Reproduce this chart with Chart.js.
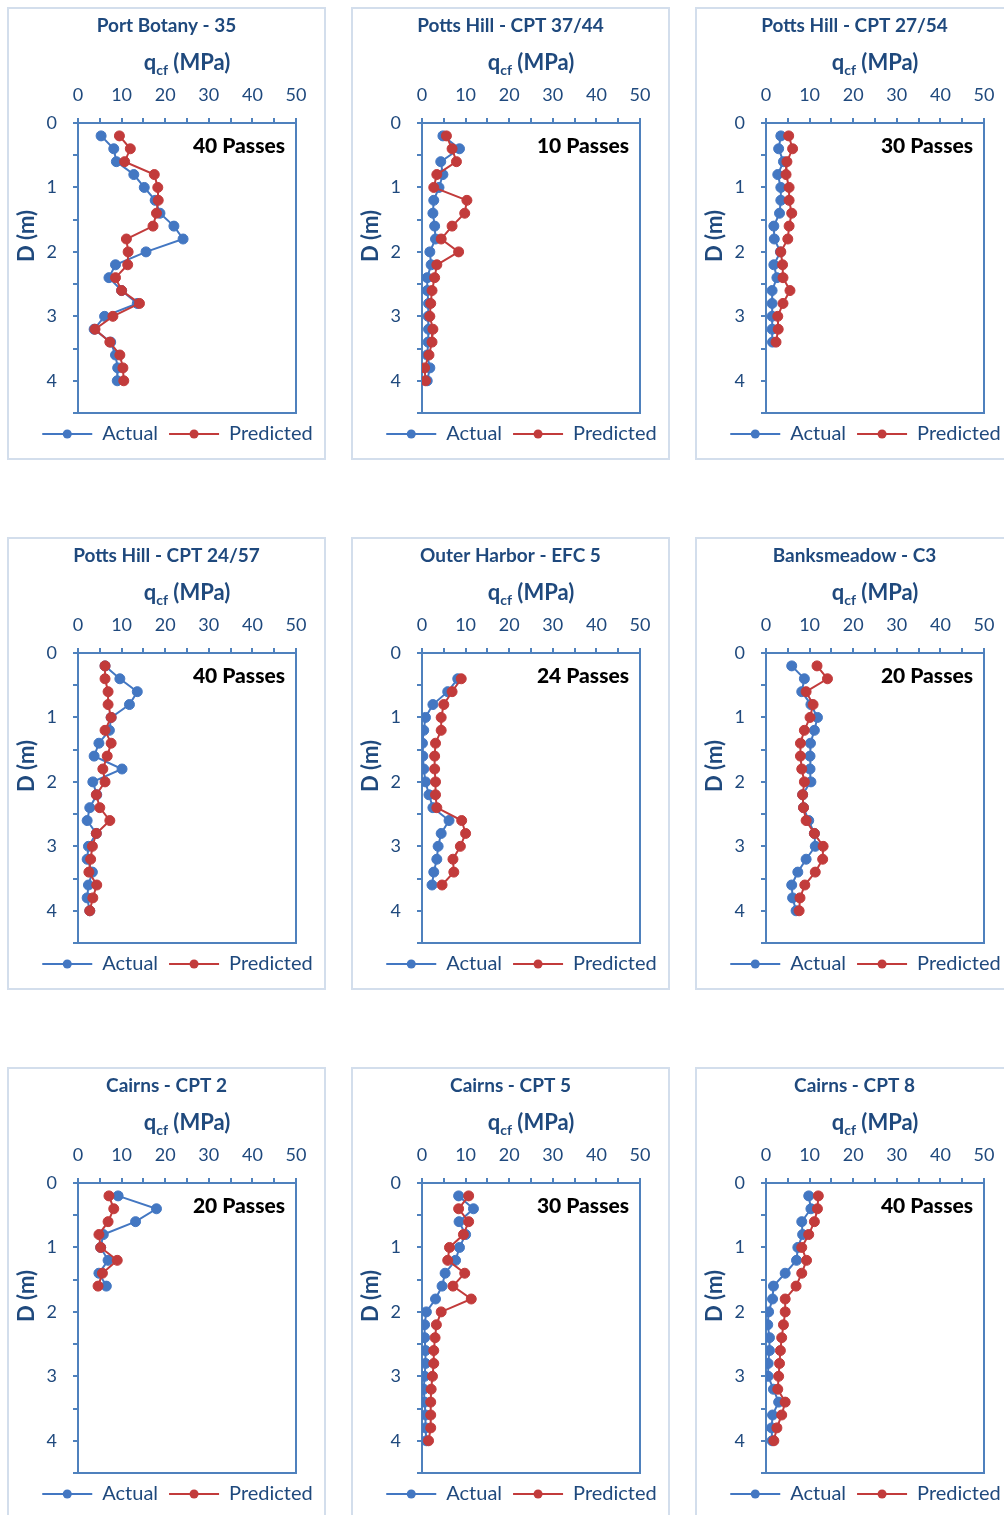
<!DOCTYPE html>
<html>
<head>
<meta charset="utf-8">
<script src="https://cdn.jsdelivr.net/npm/chart.js@4.4.1/dist/chart.umd.min.js"></script>
<style>
  html, body { margin: 0; padding: 0; background: #fff; }
  body { width: 1004px; height: 1515px; overflow: hidden; position: relative; }
  canvas { position: absolute; outline: 2px solid #D3DEEC; outline-offset: -2px; }
</style>
</head>
<body>
<script>
// depths (m)
const depth20 = [0.2, 0.4, 0.6, 0.8, 1.0, 1.2, 1.4, 1.6, 1.8, 2.0, 2.2, 2.4, 2.6, 2.8, 3.0, 3.2, 3.4, 3.6, 3.8, 4.0];
const depthTo34 = [0.2, 0.4, 0.6, 0.8, 1.0, 1.2, 1.4, 1.6, 1.8, 2.0, 2.2, 2.4, 2.6, 2.8, 3.0, 3.2, 3.4];
const depthFrom04 = [0.4, 0.6, 0.8, 1.0, 1.2, 1.4, 1.6, 1.8, 2.0, 2.2, 2.4, 2.6, 2.8, 3.0, 3.2, 3.4, 3.6];
const depthTo16 = [0.2, 0.4, 0.6, 0.8, 1.0, 1.2, 1.4, 1.6];

// qcf (MPa), actual / predicted
const portBotany35Actual = [5.3, 8.2, 8.8, 12.8, 15.2, 17.7, 18.8, 22.0, 24.1, 15.6, 8.6, 7.1, 10.0, 13.6, 6.1, 3.7, 7.5, 8.6, 9.1, 9.0];
const portBotany35Predicted = [9.5, 12.0, 10.7, 17.5, 18.3, 18.4, 18.0, 17.2, 11.1, 11.5, 11.4, 8.6, 10.0, 14.1, 8.0, 3.9, 7.3, 9.6, 10.3, 10.5];

const potts3744Actual = [4.8, 8.6, 4.3, 4.8, 3.9, 2.7, 2.5, 2.9, 3.1, 1.8, 2.1, 1.2, 1.2, 1.5, 1.4, 1.5, 1.4, 1.2, 1.8, 1.2];
const potts3744Predicted = [5.6, 6.9, 7.9, 3.4, 2.7, 10.3, 9.8, 6.9, 4.4, 8.4, 3.4, 2.9, 2.3, 2.0, 1.8, 2.5, 2.3, 1.6, 0.6, 0.8];

const potts2754Actual = [3.4, 2.9, 4.0, 2.7, 3.4, 3.4, 3.1, 1.8, 1.9, 3.3, 1.8, 2.5, 1.4, 1.4, 1.4, 1.4, 1.5];
const potts2754Predicted = [5.2, 6.1, 4.8, 4.6, 5.3, 5.3, 5.9, 5.3, 5.0, 3.4, 3.8, 3.9, 5.5, 3.9, 2.7, 2.8, 2.3];

const potts2457Actual = [6.2, 9.6, 13.6, 11.8, 7.6, 7.2, 4.8, 3.7, 10.1, 3.4, 4.3, 2.7, 2.1, 4.2, 2.4, 2.1, 3.3, 2.4, 2.1, 2.7];
const potts2457Predicted = [6.2, 6.2, 6.9, 6.9, 7.6, 6.2, 7.6, 6.7, 5.7, 6.2, 4.2, 5.0, 7.3, 4.2, 3.3, 2.9, 2.5, 4.3, 3.4, 2.7];

const outerHarborActual = [8.2, 5.9, 2.5, 0.8, 0.4, 0.1, 0.2, 0.4, 0.8, 1.6, 2.5, 6.2, 4.4, 3.7, 3.4, 2.7, 2.3];
const outerHarborPredicted = [9.0, 6.9, 5.0, 4.4, 4.4, 3.1, 2.9, 2.9, 3.1, 3.1, 3.4, 9.1, 10.0, 8.8, 7.1, 7.3, 4.6];

const banksmeadowActual = [5.9, 8.8, 8.2, 10.3, 11.8, 11.1, 10.2, 10.1, 10.1, 10.3, 8.4, 8.6, 9.8, 11.1, 11.3, 9.2, 7.3, 5.9, 6.1, 6.9];
const banksmeadowPredicted = [11.7, 14.1, 9.2, 10.8, 10.1, 8.8, 7.9, 7.9, 8.2, 8.8, 8.4, 8.6, 9.2, 11.1, 13.1, 13.0, 11.3, 8.9, 7.8, 7.6];

const cairns2Actual = [9.2, 18.0, 13.2, 5.8, 5.2, 6.9, 4.8, 6.5];
const cairns2Predicted = [7.1, 8.2, 6.9, 4.8, 5.2, 9.0, 5.6, 4.6];

const cairns5Actual = [8.4, 11.8, 8.5, 10.0, 8.6, 7.7, 5.3, 4.6, 3.1, 1.0, 0.6, 0.6, 0.8, 0.8, 0.6, 0.4, 0.6, 0.8, 0.8, 1.0];
const cairns5Predicted = [10.7, 8.4, 10.7, 9.5, 6.3, 5.9, 9.8, 7.1, 11.3, 4.4, 3.3, 3.0, 2.7, 2.7, 2.4, 2.1, 2.0, 2.0, 2.0, 1.5];

const cairns8Actual = [9.8, 10.3, 8.2, 8.4, 7.3, 7.0, 4.4, 1.7, 1.5, 0.6, 0.4, 0.8, 0.8, 0.5, 0.5, 1.7, 2.9, 1.5, 1.3, 1.4];
const cairns8Predicted = [12.0, 11.8, 11.1, 9.8, 8.2, 9.3, 8.2, 6.9, 4.4, 4.4, 4.0, 3.6, 3.3, 3.1, 2.9, 2.7, 4.4, 3.6, 2.5, 1.8];

const titles = ['Port Botany - 35', 'Potts Hill - CPT 37/44', 'Potts Hill - CPT 27/54',
  'Potts Hill - CPT 24/57', 'Outer Harbor - EFC 5', 'Banksmeadow - C3',
  'Cairns - CPT 2', 'Cairns - CPT 5', 'Cairns - CPT 8'];
const passLabels = ['40 Passes', '10 Passes', '30 Passes', '40 Passes', '24 Passes', '20 Passes', '20 Passes', '30 Passes', '40 Passes'];
const depths = [depth20, depth20, depthTo34, depth20, depthFrom04, depth20, depthTo16, depth20, depth20];
const actuals = [portBotany35Actual, potts3744Actual, potts2754Actual, potts2457Actual, outerHarborActual, banksmeadowActual, cairns2Actual, cairns5Actual, cairns8Actual];
const predicteds = [portBotany35Predicted, potts3744Predicted, potts2754Predicted, potts2457Predicted, outerHarborPredicted, banksmeadowPredicted, cairns2Predicted, cairns5Predicted, cairns8Predicted];

const NAVY = '#1F497D';
const AXIS = '#4F81BD';
const BLUE = '#4377C2';
const RED = '#C23B3B';
const FONT = 'Lato, "Open Sans", sans-serif';

const decor = {
  id: 'decor',
  afterLayout(chart) {
    // Excel's legend sits a little right of centre
    chart.legend.left += 11;
    chart.legend.right += 11;
  },
  beforeDatasetsDraw(chart) {
    const { ctx, chartArea: a } = chart;
    ctx.save();
    ctx.strokeStyle = AXIS;
    ctx.lineWidth = 2;
    ctx.strokeRect(a.left, a.top, a.width, a.height);
    ctx.restore();
  },
  afterDraw(chart, args, opts) {
    const { ctx, chartArea: a } = chart;
    ctx.save();
    // x axis title q_cf (MPa)
    ctx.fillStyle = NAVY;
    ctx.textBaseline = 'alphabetic';
    ctx.textAlign = 'left';
    const big = 'bold 22px ' + FONT, small = 'bold 14px ' + FONT;
    ctx.font = big; const wq = ctx.measureText('q').width; const wRest = ctx.measureText(' (MPa)').width;
    ctx.font = small; const wcf = ctx.measureText('cf').width;
    let x = (a.left + a.right) / 2 - (wq + wcf + wRest) / 2;
    const base = 63;
    ctx.font = big; ctx.fillText('q', x, base); x += wq;
    ctx.font = small; ctx.fillText('cf', x, base + 5); x += wcf;
    ctx.font = big; ctx.fillText(' (MPa)', x, base);

    // y axis title
    ctx.save();
    ctx.translate(20, 229);
    ctx.rotate(-Math.PI / 2);
    ctx.textAlign = 'center';
    ctx.textBaseline = 'middle';
    ctx.font = 'bold 22px ' + FONT;
    ctx.fillText('D (m)', 0, 0);
    ctx.restore();

    // passes annotation
    ctx.fillStyle = '#000';
    ctx.font = '900 21px ' + FONT;
    ctx.textAlign = 'right';
    ctx.textBaseline = 'middle';
    ctx.fillText(opts.passes, a.right - 11, a.top + 23);

    // legend markers on the line symbols
    const lg = chart.legend;
    const fs = lg.options.labels.font.size;
    lg.legendHitBoxes.forEach((h, i) => {
      const item = lg.legendItems[i];
      ctx.beginPath();
      ctx.arc(h.left + 25, h.top + fs / 2, 4.5, 0, Math.PI * 2);
      ctx.fillStyle = item.strokeStyle;
      ctx.fill();
    });
    ctx.restore();
  }
};

const colX = [7, 351, 695];
const rowY = [7, 537, 1067];

titles.forEach((title, i) => {
  const cv = document.createElement('canvas');
  cv.width = 319; cv.height = 453;
  cv.style.left = colX[i % 3] + 'px';
  cv.style.top = rowY[Math.floor(i / 3)] + 'px';
  document.body.appendChild(cv);

  const d = depths[i];
  new Chart(cv, {
    type: 'scatter',
    data: {
      datasets: [
        {
          label: 'Actual',
          data: actuals[i].map((v, k) => ({ x: v, y: d[k] })),
          borderColor: BLUE, backgroundColor: BLUE, pointBackgroundColor: BLUE,
          showLine: true, borderWidth: 2, pointRadius: 5, pointBorderWidth: 1,
          order: 1,
        },
        {
          label: 'Predicted',
          data: predicteds[i].map((v, k) => ({ x: v, y: d[k] })),
          borderColor: RED, backgroundColor: RED, pointBackgroundColor: RED,
          showLine: true, borderWidth: 2, pointRadius: 5, pointBorderWidth: 1,
          order: 0,
        },
      ],
    },
    options: {
      responsive: false,
      animation: false,
      layout: { padding: { left: 0, right: 0, top: 0, bottom: 6 } },
      scales: {
        x: {
          type: 'linear', position: 'top', min: 0, max: 50,
          afterFit: (s) => { s.height = 85.7; },
          ticks: {
            stepSize: 5, padding: 12, color: NAVY, font: { family: FONT, size: 18 },
            callback: (v) => (v % 10 === 0 ? v : ''),
            maxRotation: 0, autoSkip: false,
          },
          grid: { drawOnChartArea: false, drawTicks: true, tickLength: 5, color: AXIS, lineWidth: 2 },
          border: { color: AXIS, width: 2 },
        },
        y: {
          type: 'linear', reverse: true, min: 0, max: 4.5,
          afterFit: (s) => { s.width = 71; },
          ticks: {
            stepSize: 0.5, padding: 16, color: NAVY, font: { family: FONT, size: 18 },
            callback: (v) => (Number.isInteger(v) ? v : ''),
            autoSkip: false,
          },
          grid: { drawOnChartArea: false, drawTicks: true, tickLength: 5, color: AXIS, lineWidth: 2 },
          border: { color: AXIS, width: 2 },
        },
        // empty right-hand strip, keeps the plot clear of the panel edge
        gap: {
          type: 'linear', position: 'right', min: 0, max: 1,
          afterFit: (s) => { s.width = 30; },
          ticks: { display: false },
          grid: { display: false },
          border: { display: false },
        },
      },
      plugins: {
        title: {
          display: true, text: title, color: NAVY,
          font: { family: FONT, size: 19, weight: 'bold' },
          padding: { top: 7.5, bottom: 0 },
        },
        legend: {
          position: 'bottom',
          labels: {
            usePointStyle: true, pointStyle: 'line', pointStyleWidth: 50,
            color: NAVY, font: { family: FONT, size: 20 }, padding: 11,
            sort: (a, b) => a.datasetIndex - b.datasetIndex,
            generateLabels: (chart) => Chart.defaults.plugins.legend.labels.generateLabels(chart)
              .map((l) => ({ ...l, lineWidth: 2 })),
          },
        },
        tooltip: { enabled: false },
        decor: { passes: passLabels[i] },
      },
    },
    plugins: [decor],
  });
});
</script>
</body>
</html>
